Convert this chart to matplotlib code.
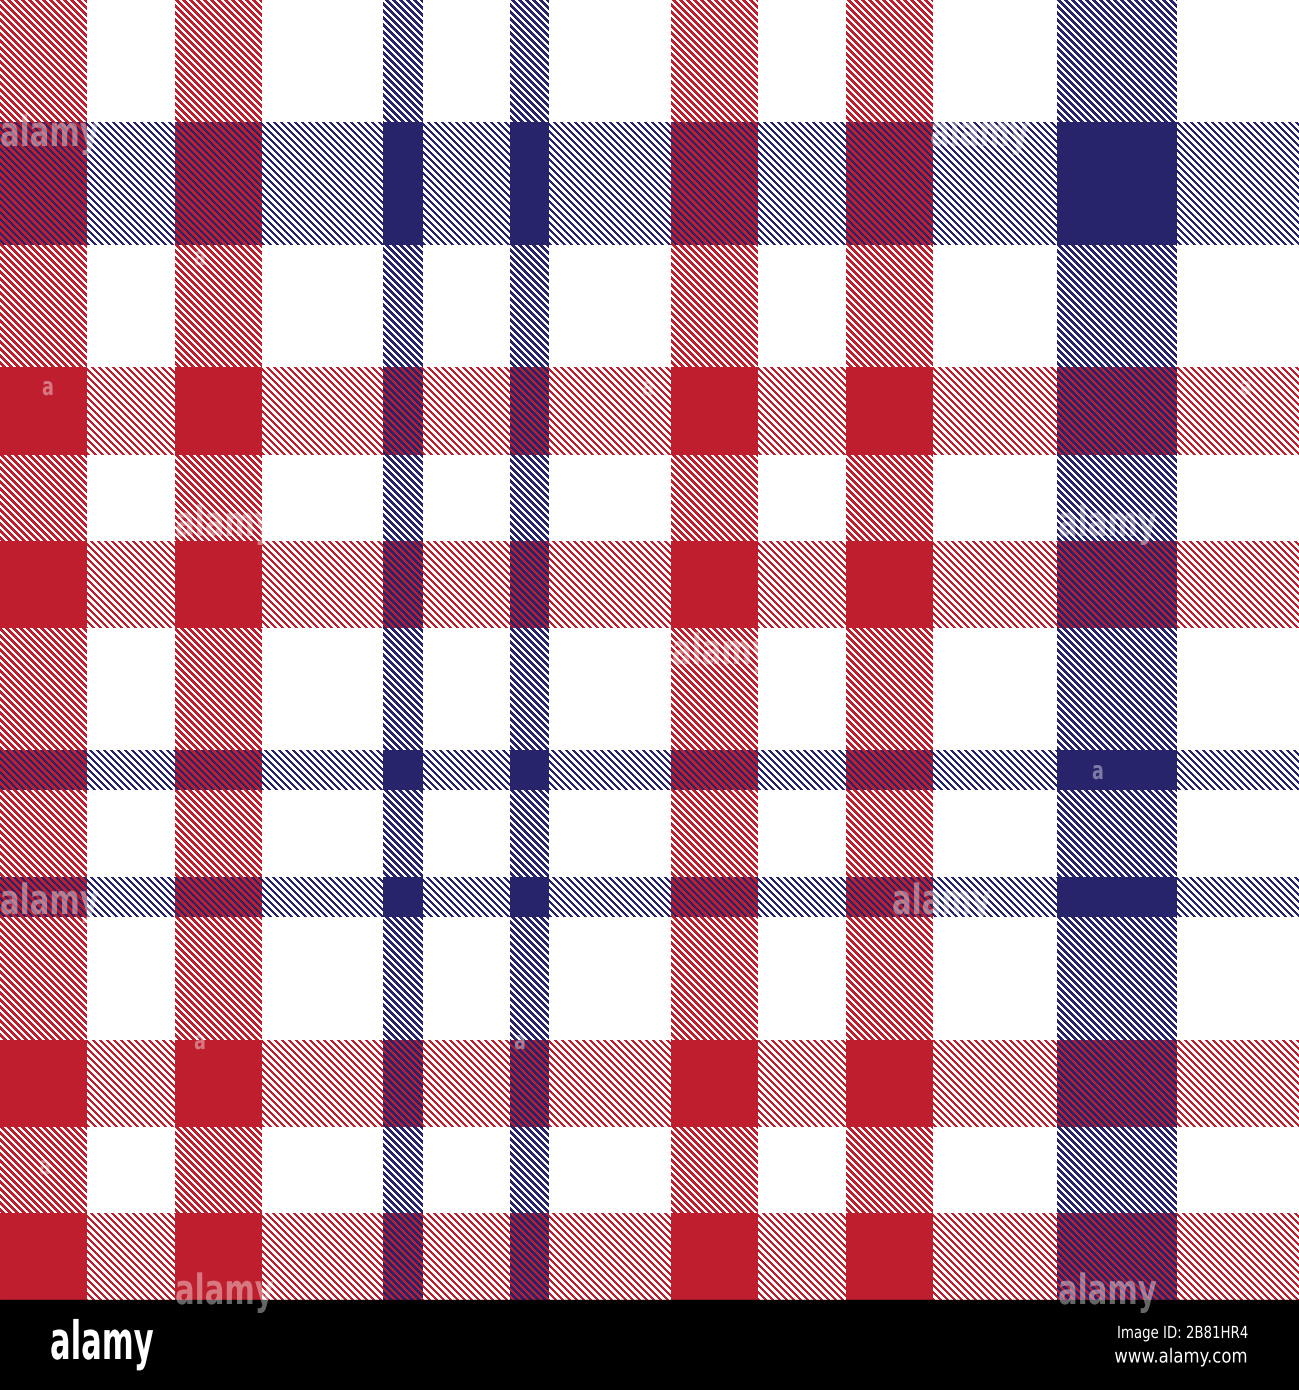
import numpy as np
import matplotlib
matplotlib.use('Agg')
import matplotlib.pyplot as plt
from matplotlib.colors import to_rgb
from matplotlib.patheffects import AbstractPathEffect
from matplotlib.transforms import Affine2D

# tartan sett: colour code and thread count (pixels) of each stripe
palette = {'R': '#be1e2d', 'B': '#27246b', 'W': '#ffffff'}
warp_colors = ['R', 'W', 'R', 'W', 'B', 'W', 'B', 'W', 'R', 'W', 'R', 'W', 'B', 'W']
warp_widths = [87, 88, 87, 121, 40, 87, 39, 122, 87, 88, 87, 124, 120, 122]
weft_colors = ['W', 'B', 'W', 'R', 'W', 'R', 'W', 'B', 'W', 'B', 'W', 'R', 'W', 'R']
weft_widths = [122, 123, 122, 88, 86, 87, 122, 40, 87, 40, 123, 87, 86, 87]
twill_period = 7

# watermark positions (x, y) in pixels
mark_words = [(0, 134), (930, 134), (175, 524), (1058, 524), (672, 652),
              (0, 902), (892, 902), (175, 1292), (1058, 1292)]
mark_letters = [(48, 388), (200, 258), (200, 1042), (1098, 772),
                (45, 1167), (1246, 388), (648, 388), (520, 1042)]
image_id = '2B81HR4'

W, H, BAR = 1299, 1300, 90
FONT = ['Liberation Sans Narrow', 'DejaVu Sans']


class Squeeze(AbstractPathEffect):
    """narrow the glyphs horizontally about the text's anchor (condensed look)"""
    def __init__(self, sx, x0):
        super().__init__()
        self.sx, self.x0 = sx, x0

    def draw_path(self, renderer, gc, tpath, affine, rgbFace=None):
        sq = Affine2D().translate(-self.x0, 0).scale(self.sx, 1).translate(self.x0, 0)
        renderer.draw_path(gc, tpath, affine + sq, rgbFace)


wx = np.repeat(np.arange(len(warp_colors)), warp_widths)
wy = np.repeat(np.arange(len(weft_colors)), weft_widths)
rgb = {k: np.array(to_rgb(v)) for k, v in palette.items()}
warp_rgb = np.array([rgb[warp_colors[i]] for i in wx])   # (W,3)
weft_rgb = np.array([rgb[weft_colors[i]] for i in wy])   # (H,3)

xx, yy = np.meshgrid(np.arange(W), np.arange(H))
over = ((xx - yy) % twill_period) < (twill_period + 1) // 2
img = np.where(over[..., None], warp_rgb[None, :, :], weft_rgb[:, None, :])

fig = plt.figure(figsize=(W / 100, (H + BAR) / 100), dpi=100, facecolor='black')
ax = fig.add_axes([0, 0, 1, 1])
ax.set_xlim(0, W)
ax.set_ylim(H + BAR, 0)
ax.axis('off')
ax.imshow(img, extent=(0, W, H, 0), interpolation='nearest', aspect='auto')
ax.add_patch(plt.Rectangle((0, H), W, BAR, color='black'))


def label(x, y, s, size, sx, ha='left', **kw):
    t = ax.text(x, y, s, color='white', fontsize=size, family=FONT,
                ha=ha, va='center', **kw)
    # anchor in display pixels (figure is 1:1 with data pixels)
    x0 = ax.transData.transform((x, y))[0]
    t.set_path_effects([Squeeze(sx, x0)])
    return t


for x, y in mark_words:
    label(x, y, 'alamy', 30, 0.7, alpha=0.4, fontweight='bold')
for x, y in mark_letters:
    label(x, y, 'a', 18, 0.7, ha='center', alpha=0.4, fontweight='bold')

label(50, 1344, 'alamy', 38, 0.58, fontweight='bold')
label(1248, 1333, 'Image ID: ' + image_id, 12, 0.8, ha='right')
label(1248, 1357, 'www.alamy.com', 14, 0.85, ha='right')

fig.savefig('out.png', dpi=100, facecolor='black')
